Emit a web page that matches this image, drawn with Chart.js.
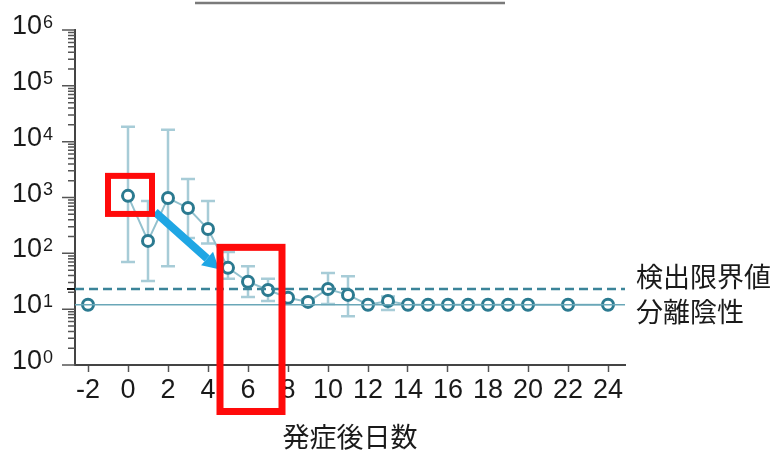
<!DOCTYPE html>
<html>
<head>
<meta charset="utf-8">
<script src="https://cdn.jsdelivr.net/npm/chart.js@4"></script>
<style>
  html, body { margin: 0; padding: 0; background: #fff; }
  #wrap { width: 782px; height: 453px; }
</style>
</head>
<body>
<div id="wrap"><canvas id="c" width="782" height="453"></canvas></div>
<script>
// Virus titer by day after onset (log scale)
const preDays = [-2];
const preTiter = [12];
const days = [0, 1, 2, 3, 4, 5, 6, 7, 8, 9, 10, 11, 12, 13, 14, 15, 16, 17, 18, 19, 20, 22, 24];
const titer = [1070, 167, 980, 650, 273, 55, 31, 22, 16, 13.5, 23, 18, 12, 14, 12, 12, 12, 12, 12, 12, 12, 12, 12];
const errLow = [70, 32, 59, 189, 150, 35, 16.5, 14, null, 12, 12.4, 7.5, null, 9.7, null, null, null, null, null, null, null, null, null];
const errHigh = [18500, 870, 16300, 2150, 870, 106, 59, 35, null, 15, 44.5, 39, null, 16.8, null, null, null, null, null, null, null, null, null];

// Reference levels
const detectionLimit = 23;
const negativeLevel = 12;

// Axis ticks and texts
const xTicks = [-2, 0, 2, 4, 6, 8, 10, 12, 14, 16, 18, 20, 22, 24];
const yExponents = [0, 1, 2, 3, 4, 5, 6];
const xTitle = '発症後日数';
const limitLabel = '検出限界値';
const negativeLabel = '分離陰性';

// Highlight boxes and arrow, in data units (day, titer)
const boxDays = [[-1.0, 1.2], [4.6, 7.7]];
const boxTiter = [[2440, 508], [128, 0.147]];
const arrowDays = [1.35, 4.55];
const arrowTiter = [550, 52];

const X_MIN = -2.65, X_MAX = 24.85;

const POINT_EDGE = '#2b7a90';
const LINK = '#93c1ce';
const ERR = '#a7ccd7';
const TEXT = '#1a1a1a';
const NUM_FONT = '"Liberation Sans", Arial, sans-serif';

const overlay = {
  id: 'overlay',
  beforeDatasetsDraw(chart) {
    const { ctx, scales: { x, y } } = chart;
    ctx.save();
    ctx.strokeStyle = ERR;
    ctx.lineWidth = 2.5;
    days.forEach((d, i) => {
      if (errLow[i] == null || errHigh[i] == null) return;
      const px = x.getPixelForValue(d);
      const yl = y.getPixelForValue(errLow[i]);
      const yh = y.getPixelForValue(errHigh[i]);
      ctx.beginPath();
      ctx.moveTo(px, yh); ctx.lineTo(px, yl);
      ctx.moveTo(px - 7, yh); ctx.lineTo(px + 7, yh);
      ctx.moveTo(px - 7, yl); ctx.lineTo(px + 7, yl);
      ctx.stroke();
    });
    ctx.restore();
  },
  afterDraw(chart) {
    const { ctx, chartArea: ca, scales: { x, y } } = chart;
    ctx.save();

    // y axis ticks: majors at each decade, minors at 2..9
    ctx.strokeStyle = '#555';
    ctx.lineWidth = 1.5;
    ctx.beginPath();
    yExponents.forEach(e => {
      const py = y.getPixelForValue(Math.pow(10, e));
      ctx.moveTo(ca.left - 13, py); ctx.lineTo(ca.left, py);
      if (e < 6) {
        for (let m = 2; m <= 9; m++) {
          const pm = y.getPixelForValue(m * Math.pow(10, e));
          ctx.moveTo(ca.left - 7, pm); ctx.lineTo(ca.left, pm);
        }
      }
    });
    ctx.stroke();
    ctx.strokeStyle = '#111';
    ctx.lineWidth = 2;
    const pLim = y.getPixelForValue(detectionLimit);
    ctx.beginPath();
    ctx.moveTo(ca.left - 8, pLim); ctx.lineTo(ca.left, pLim);
    ctx.stroke();

    // y axis labels 10^n
    ctx.fillStyle = TEXT;
    yExponents.forEach(e => {
      const py = y.getPixelForValue(Math.pow(10, e));
      ctx.font = '27px ' + NUM_FONT;
      ctx.textAlign = 'right';
      ctx.textBaseline = 'alphabetic';
      ctx.fillText('10', ca.left - 33, py + 4);
      ctx.font = '18px ' + NUM_FONT;
      ctx.textAlign = 'left';
      ctx.textBaseline = 'top';
      ctx.fillText(String(e), ca.left - 32, py - 16);
    });

    // labels for the reference lines
    ctx.font = '27px "Noto Sans CJK JP", sans-serif';
    ctx.textAlign = 'left';
    ctx.textBaseline = 'middle';
    ctx.fillStyle = TEXT;
    ctx.fillText(limitLabel, ca.right + 11, pLim - 12);
    ctx.fillText(negativeLabel, ca.right + 11, y.getPixelForValue(negativeLevel) + 7);

    // arrow
    const ax0 = x.getPixelForValue(arrowDays[0]), ay0 = y.getPixelForValue(arrowTiter[0]);
    const ax1 = x.getPixelForValue(arrowDays[1]), ay1 = y.getPixelForValue(arrowTiter[1]);
    const ang = Math.atan2(ay1 - ay0, ax1 - ax0);
    const headLen = 16, headHalf = 9;
    const bx = ax1 - headLen * Math.cos(ang), by = ay1 - headLen * Math.sin(ang);
    ctx.strokeStyle = '#1fa6e4';
    ctx.fillStyle = '#1fa6e4';
    ctx.lineWidth = 8;
    ctx.lineCap = 'butt';
    ctx.beginPath();
    ctx.moveTo(ax0, ay0); ctx.lineTo(bx, by);
    ctx.stroke();
    ctx.beginPath();
    ctx.moveTo(ax1, ay1);
    ctx.lineTo(bx + headHalf * Math.sin(ang), by - headHalf * Math.cos(ang));
    ctx.lineTo(bx - headHalf * Math.sin(ang), by + headHalf * Math.cos(ang));
    ctx.closePath();
    ctx.fill();

    // red highlight boxes
    ctx.strokeStyle = '#ff0a0a';
    boxDays.forEach((bd, i) => {
      const x0 = x.getPixelForValue(bd[0]), x1 = x.getPixelForValue(bd[1]);
      const y0 = y.getPixelForValue(boxTiter[i][0]), y1 = y.getPixelForValue(boxTiter[i][1]);
      ctx.lineWidth = i === 0 ? 6 : 7;
      ctx.strokeRect(x0, y0, x1 - x0, y1 - y0);
    });

    // rule at the top edge
    ctx.strokeStyle = '#7a7a7a';
    ctx.lineWidth = 2.5;
    ctx.beginPath();
    ctx.moveTo(195, 3); ctx.lineTo(505, 3);
    ctx.stroke();

    ctx.restore();
  }
};

const pointStyle = {
  pointRadius: 5.5,
  pointBorderWidth: 3,
  pointBorderColor: POINT_EDGE,
  pointBackgroundColor: '#ffffff'
};

new Chart(document.getElementById('c'), {
  type: 'line',
  data: {
    datasets: [
      {
        label: limitLabel,
        data: [{ x: X_MIN, y: detectionLimit }, { x: X_MAX, y: detectionLimit }],
        borderColor: '#3b8499', borderWidth: 2.5, borderDash: [9, 5], pointRadius: 0
      },
      {
        label: negativeLabel,
        data: [{ x: X_MIN, y: negativeLevel }, { x: X_MAX, y: negativeLevel }],
        borderColor: '#6aa7b8', borderWidth: 1.5, pointRadius: 0
      },
      Object.assign({
        label: 'pre',
        data: preDays.map((d, i) => ({ x: d, y: preTiter[i] })),
        showLine: false
      }, pointStyle),
      Object.assign({
        label: 'titer',
        data: days.map((d, i) => ({ x: d, y: titer[i] })),
        borderColor: LINK, borderWidth: 2
      }, pointStyle)
    ]
  },
  options: {
    responsive: false,
    animation: false,
    layout: { padding: { left: 0, right: 157, top: 30, bottom: 0 } },
    plugins: { legend: { display: false }, tooltip: { enabled: false } },
    scales: {
      x: {
        type: 'linear', min: X_MIN, max: X_MAX,
        afterBuildTicks: s => { s.ticks = xTicks.map(v => ({ value: v })); },
        grid: { drawOnChartArea: false, drawTicks: true, tickLength: 7, tickColor: '#555', tickWidth: 1.5 },
        border: { color: '#444', width: 2 },
        ticks: {
          font: { family: NUM_FONT, size: 27 },
          color: TEXT, padding: 2, maxRotation: 0, autoSkip: false
        },
        title: {
          display: true, text: xTitle, color: TEXT, padding: 0,
          font: { family: '"Noto Sans CJK JP", sans-serif', size: 27 }
        },
        afterFit: s => { s.height = 88; }
      },
      y: {
        type: 'logarithmic', min: 1, max: 1e6,
        grid: { display: false },
        border: { color: '#444', width: 2 },
        ticks: { display: false },
        afterFit: s => { s.width = 75; }
      }
    }
  },
  plugins: [overlay]
});
</script>
</body>
</html>
